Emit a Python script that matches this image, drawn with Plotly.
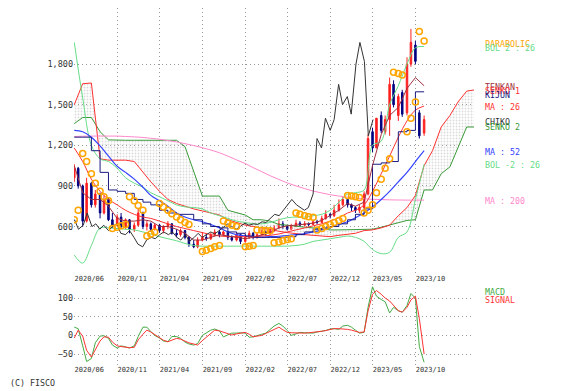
import plotly.graph_objects as go
from datetime import date, timedelta

# ---------------- data ----------------
# semi-monthly candles, 2020-06-01 .. 2023-11-01
candle_open = [960,1030,900,640,920,760,840,700,800,650,610,670,600,650,580,610,700,600,620,580,
               610,570,600,620,550,540,570,520,470,450,500,520,510,540,560,540,560,520,500,540,
               490,520,550,520,540,560,545,570,590,620,600,580,600,625,610,620,615,635,630,660,
               690,680,720,760,800,760,740,720,740,840,1300,1180,1420,1300,1390,1650,1420,1590,1440,1800,
               1940,1440,1290]
candle_high = [1060,1040,910,960,930,870,850,830,810,700,690,700,660,655,630,730,710,640,630,620,
               620,610,640,625,580,585,575,530,500,520,560,545,555,580,575,570,565,535,555,545,
               540,570,560,560,580,570,590,610,660,640,610,620,650,640,640,630,650,650,680,720,
               700,760,800,820,810,770,750,760,860,1280,1330,1400,1450,1420,1700,1680,1580,1610,1850,2060,
               1970,1460,1420]
candle_low = [930,880,600,630,740,740,660,690,640,590,600,590,580,550,560,600,580,570,560,570,
              555,550,580,540,520,525,505,450,440,440,490,495,500,530,520,530,500,490,490,470,
              480,510,505,510,535,530,540,560,580,580,570,575,595,600,600,600,610,615,625,650,
              660,670,710,750,740,715,700,700,730,830,1150,1180,1290,1280,1270,1480,1380,1410,1420,1780,
              1800,1250,1270]
candle_close = [1030,900,640,920,760,840,700,800,650,610,670,600,650,580,610,700,600,620,580,610,
                570,600,620,550,540,570,520,470,450,500,520,510,540,560,540,560,520,500,540,490,
                520,550,520,540,560,545,570,590,620,600,580,600,625,610,620,615,635,630,660,690,
                680,720,760,800,760,740,720,740,840,1250,1180,1400,1310,1390,1650,1500,1560,1430,1800,1960,
                1820,1270,1390]

macd = [22,18,-28,-70,-62,-20,-2,-1,-8,-26,-34,-28,-31,-34,-28,-3,22,22,10,0,
        -7,-15,-17,-3,-3,-8,-18,-23,-26,-22,0,7,14,17,12,-4,2,6,6,7,
        6,-5,-4,0,3,6,16,25,32,25,13,0,4,8,7,6,6,9,11,13,
        17,18,16,25,27,22,14,6,8,75,130,105,96,90,60,75,66,62,80,112,
        100,-30,-72]
signal = [-7,14,-2,-40,-58,-40,-15,-4,-5,-18,-28,-30,-32,-33,-32,-12,3,14,9,2,
          -6,-13,-17,-12,-8,-10,-16,-20,-23,-26,-14,-5,5,14,12,8,3,1,4,6,
          8,3,-4,-2,0,5,11,17,22,15,8,7,6,6,6,7,8,9,11,13,
          16,18,18,18,16,14,11,8,9,65,110,120,110,100,92,80,66,62,75,95,
          105,45,-50]

# monthly indicator values, 2020-06 .. 2023-11
ma200 = [1265,1267,1268,1268,1268,1268,1265,1262,1258,1252,1245,1235,1225,1212,1198,1182,1165,1145,1120,1092,
         1065,1035,1005,975,948,922,900,880,862,848,835,825,817,810,805,801,799,797,796,795,795,795]
ma52 = [1310,1300,1260,1195,1120,1045,1000,950,890,830,790,750,700,670,650,635,615,590,560,540,
        530,525,522,525,528,533,540,548,560,575,595,615,635,665,700,745,800,860,930,1000,1080,1160]
ma26 = [1180,1080,950,860,800,760,720,690,670,660,640,620,600,585,570,555,540,530,525,525,
        525,525,530,535,545,560,575,590,605,620,640,665,700,720,760,860,990,1120,1260,1380,1460,1490]
bol_up = [1960,1550,1200,1100,1080,1030,960,920,890,850,820,790,760,745,740,730,700,680,660,640,
          630,620,620,630,650,665,670,670,680,690,720,780,840,850,870,1200,1230,1500,1640,1800,1920,1930]
bol_dn = [390,330,460,590,590,585,580,575,560,545,525,510,495,475,460,455,455,455,455,455,
          455,455,455,455,455,455,460,470,490,500,510,520,530,520,490,430,400,410,520,560,800,1060]
tenkan = [1050,850,800,800,750,660,640,640,650,640,600,600,580,550,500,500,520,540,530,520,
          510,520,540,555,590,605,610,620,625,645,680,720,770,750,780,1050,1280,1420,1480,1620,1700,1640]
kijun = [1260,1260,1160,1000,870,860,845,800,780,760,720,700,690,690,650,620,600,590,560,550,
         530,520,520,520,520,525,540,560,580,590,600,620,650,690,730,1060,1070,1080,1300,1310,1595,1595]
# monthly, 2020-06 .. 2024-05 (leading spans)
senkou1 = [1500,1655,1660,1100,1090,1090,1090,1080,1000,930,860,800,770,750,730,715,700,685,650,630,
           610,600,590,580,565,555,545,540,535,530,525,535,545,550,570,575,590,610,680,740,
           830,1050,1160,1335,1420,1520,1600,1610]
senkou2 = [1360,1405,1405,1300,1240,1237,1237,1237,1237,1237,1237,1237,1237,1190,1000,825,825,825,720,700,
           685,650,650,640,615,610,600,595,590,580,575,575,575,575,575,580,595,610,625,645,
           650,870,870,990,1040,1185,1335,1335]

# parabolic SAR (half-month index, value)
sar_idx = [0,1, 2,3,4,5,6,7,8, 9,10,11,12, 13,14,15,16, 17,18,19,
           20,21,22,23,24,25,26,27, 30,31,32,33,34, 35,36,37,38, 40,41,42,
           43,44,45,46, 47,48,49,50,51, 52,53,54,55,56,
           57,58,59,60,61,62,63, 64,65,66,67, 68,69,70,71,72,73,74,
           75,76,77, 78,79,80, 81,82]
sar_val = [650,720, 1140,1080,990,920,860,820,790, 585,595,605,615, 820,790,755,720, 530,545,560,
           770,745,720,695,670,650,630,615, 415,425,438,450,460, 640,625,610,600, 450,455,460,
           575,572,570,568, 480,485,495,505,510, 700,690,680,672,668,
           575,585,600,615,630,645,660, 830,825,820,815, 700,720,760,850,950,1030,1100,
           1740,1730,1720, 1300,1400,1520, 2040,1970]

xtick_vals = ["2020-06-01","2020-11-01","2021-04-01","2021-09-01","2022-02-01",
              "2022-07-01","2022-12-01","2023-05-01","2023-10-01"]
xtick_text = ["2020/06","2020/11","2021/04","2021/09","2022/02",
              "2022/07","2022/12","2023/05","2023/10"]

# ---------------- dates ----------------
def half_month(k):
    y = 2020 + (5 + k // 2) // 12
    m = (5 + k // 2) % 12 + 1
    return date(y, m, 1 if k % 2 == 0 else 15)

def month(i):
    y = 2020 + (5 + i) // 12
    m = (5 + i) % 12 + 1
    return date(y, m, 1)

cd = [half_month(k) for k in range(len(candle_close))]
md = [month(i) for i in range(48)]
chiko_dates = [d - timedelta(days=182) for d in cd]

FONT = "DejaVu Sans Mono"
fig = go.Figure()

def line(xs, ys, color, width=1, yaxis="y", xaxis="x", shape="spline", **kw):
    fig.add_trace(go.Scatter(x=xs, y=ys, mode="lines", xaxis=xaxis, yaxis=yaxis,
                             line=dict(color=color, width=width, shape=shape),
                             showlegend=False, hoverinfo="skip", **kw))

# cloud
line(md, senkou2, "#3a9a3a", shape="linear")
line(md, senkou1, "#ff3030", shape="linear", fill="tonexty",
     fillcolor="rgba(200,200,200,0.25)",
     fillpattern=dict(shape=".", fgcolor="#b8b8b8", bgcolor="rgba(255,255,255,0)", size=3, solidity=0.3))

line(md[:42], ma200, "#ff88cc")
line(md[:42], bol_up, "#66dd88")
line(md[:42], bol_dn, "#66dd88")
line(md[:42], ma52, "#3344ff", width=1.2)
line(md[:42], ma26, "#ff3333")
line(md[:42], kijun, "#1a1a80", shape="hv")
line(md[:42], tenkan, "#a03040", shape="linear")
line(chiko_dates, candle_close, "#333333", shape="linear")

fig.add_trace(go.Candlestick(
    x=cd, open=candle_open, high=candle_high, low=candle_low, close=candle_close,
    increasing=dict(line=dict(color="#ff2020", width=1), fillcolor="#ff2020"),
    decreasing=dict(line=dict(color="#000080", width=1), fillcolor="#000080"),
    whiskerwidth=0, showlegend=False, hoverinfo="skip"))

fig.add_trace(go.Scatter(x=[cd[i] for i in sar_idx], y=sar_val, mode="markers",
                         marker=dict(symbol="circle-open", size=6, color="#ffa500", line=dict(width=1.5)),
                         showlegend=False, hoverinfo="skip"))

line(cd, macd, "#44aa44", yaxis="y2", xaxis="x2", shape="linear")
line(cd, signal, "#ff3333", yaxis="y2", xaxis="x2", shape="linear")

grid = dict(showgrid=True, gridcolor="#999999", griddash="1px,3px", gridwidth=1,
            zeroline=False, showline=False, ticks="", automargin=False)
yfont = dict(family=FONT, size=8.5, color="#333333")
xfont = dict(family=FONT, size=7, color="#333333")
LEG = 8.3
xr = ["2020-05-31", "2024-04-27"]

# page body adds an 8px offset; figure is sized to fit the 564x391 window
fig.update_layout(
    width=556, height=383, margin=dict(l=66, r=90, t=0, b=25, autoexpand=False),
    paper_bgcolor="white", plot_bgcolor="white", boxgap=0.45,
    xaxis=dict(domain=[0, 1], range=xr, tickvals=xtick_vals, ticktext=xtick_text, tickangle=0,
               tickfont=xfont, ticklabelshift=15, ticklabelstandoff=-2,
               rangeslider=dict(visible=False), anchor="y", **grid),
    yaxis=dict(domain=[0.2542, 1], range=[242, 2214], tickvals=[600, 900, 1200, 1500, 1800],
               ticktext=["600", "900", "1,200", "1,500", "1,800"], tickfont=yfont, anchor="x", **grid),
    xaxis2=dict(domain=[0, 1], range=xr, tickvals=xtick_vals, ticktext=xtick_text, tickangle=0,
                tickfont=xfont, ticklabelshift=15, ticklabelstandoff=-2, anchor="y2", matches="x", **grid),
    yaxis2=dict(domain=[0, 0.229], range=[-82, 137.5], tickvals=[-50, 0, 50, 100],
                tickfont=yfont, anchor="x2", **grid),
)

labels = [
    ("PARABOLIC", 1948, "#ffa500"), ("BOL 2 : 26", 1918, "#66dd88"),
    ("TENKAN", 1630, "#a03040"), ("SENKO 1", 1600, "#ff3030"), ("KIJUN", 1570, "#1a1a80"),
    ("MA : 26", 1482, "#ff3333"), ("CHIKO", 1372, "#333333"), ("SENKO 2", 1335, "#3a9a3a"),
    ("MA : 52", 1150, "#3344ff"), ("BOL -2 : 26", 1054, "#66dd88"), ("MA : 200", 788, "#ff88cc"),
]
for t, yv, c in labels:
    fig.add_annotation(x=1.022, xref="paper", y=yv, yref="y", text=t, showarrow=False,
                       xanchor="left", yanchor="middle", font=dict(family=FONT, size=LEG, color=c))
for t, yv, c in [("MACD", 116, "#44aa44"), ("SIGNAL", 94, "#ff3333")]:
    fig.add_annotation(x=1.022, xref="paper", y=yv, yref="y2", text=t, showarrow=False,
                       xanchor="left", yanchor="middle", font=dict(family=FONT, size=LEG, color=c))
fig.add_annotation(x=0, xref="paper", xshift=-66, y=0, yref="paper", yshift=-17, text="(C) FISCO",
                   showarrow=False, xanchor="left", yanchor="middle",
                   font=dict(family=FONT, size=LEG, color="#333333"))

fig.write_html("out.html")
